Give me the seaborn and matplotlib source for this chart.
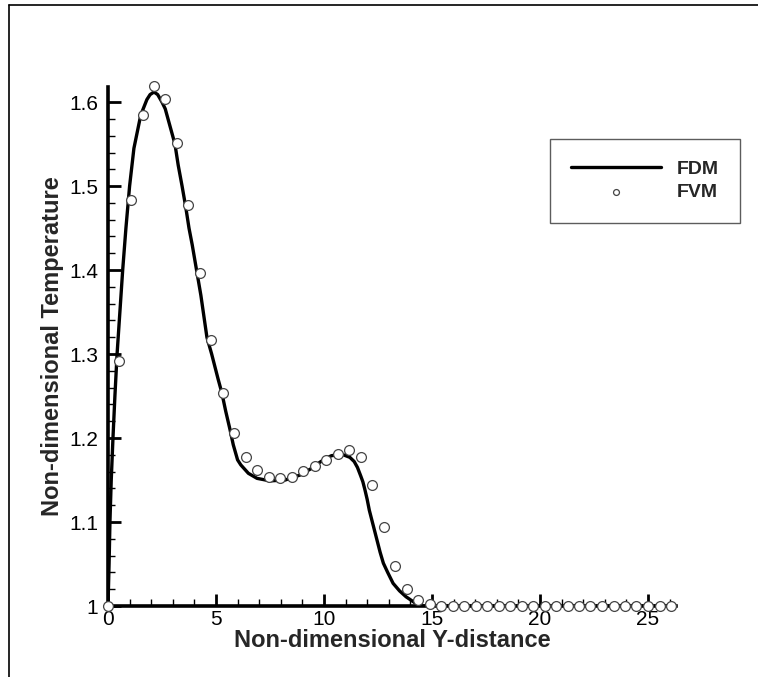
import numpy as np
import pandas as pd
import matplotlib
matplotlib.use("Agg")
import matplotlib.pyplot as plt
import seaborn as sns
from matplotlib.ticker import MultipleLocator, FuncFormatter
from matplotlib.lines import Line2D

# FDM solution (solid curve)
fdm_y_dist = [0.0, 0.05, 0.09, 0.15, 0.23, 0.32, 0.42, 0.55, 0.68, 0.83, 1.0, 1.2,
              1.48, 1.6, 1.8, 1.95, 2.13, 2.3, 2.5, 2.65, 2.8, 3.1, 3.25, 3.43, 3.6,
              3.75, 3.9, 4.1, 4.3, 4.58, 4.8, 5.0, 5.1, 5.27, 5.45, 5.65, 5.8, 6.0,
              6.15, 6.5, 6.9, 7.5, 8.2, 8.9, 9.5, 9.8, 10.1, 10.35, 10.65, 10.9, 11.0,
              11.2, 11.4, 11.55, 11.7, 11.8, 11.9, 12.0, 12.1, 12.25, 12.45, 12.6,
              12.75, 12.95, 13.2, 13.5, 13.8, 14.2, 14.6, 15.5, 26.07]
fdm_temp = [1.0, 1.05, 1.1, 1.15, 1.2, 1.25, 1.3, 1.35, 1.4, 1.45, 1.5, 1.545,
            1.58, 1.59, 1.603, 1.609, 1.612, 1.609, 1.6, 1.592, 1.578, 1.55, 1.525,
            1.5, 1.475, 1.45, 1.43, 1.4, 1.37, 1.32, 1.30, 1.28, 1.27, 1.254, 1.232,
            1.21, 1.192, 1.174, 1.168, 1.158, 1.152, 1.149, 1.15, 1.156, 1.165,
            1.171, 1.176, 1.179, 1.18, 1.18, 1.179, 1.177, 1.172, 1.165, 1.155,
            1.148, 1.138, 1.127, 1.114, 1.099, 1.079, 1.064, 1.051, 1.04, 1.027,
            1.018, 1.011, 1.004, 1.0, 1.0, 1.0]

# FVM solution (circles)
fvm_y_dist = [0.0, 0.53, 1.06, 1.6, 2.13, 2.66, 3.19, 3.72, 4.26, 4.79, 5.32, 5.85,
              6.38, 6.92, 7.45, 7.98, 8.51, 9.05, 9.58, 10.11, 10.64, 11.17, 11.7,
              12.24, 12.77, 13.3, 13.83, 14.36, 14.9, 15.43, 15.96, 16.49, 17.02,
              17.56, 18.09, 18.62, 19.15, 19.68, 20.22, 20.75, 21.28, 21.81, 22.34,
              22.88, 23.41, 23.94, 24.47, 25.0, 25.54, 26.07]
fvm_temp = [1.0, 1.292, 1.483, 1.585, 1.619, 1.604, 1.551, 1.477, 1.396, 1.317, 1.254,
            1.206, 1.177, 1.162, 1.154, 1.152, 1.154, 1.161, 1.167, 1.174, 1.181,
            1.186, 1.177, 1.144, 1.094, 1.048, 1.02, 1.007, 1.002, 1.0, 1.0, 1.0,
            1.0, 1.0, 1.0, 1.0, 1.0, 1.0, 1.0, 1.0, 1.0, 1.0, 1.0, 1.0, 1.0, 1.0,
            1.0, 1.0, 1.0, 1.0]

fdm = pd.DataFrame({"y": fdm_y_dist, "T": fdm_temp})
fvm = pd.DataFrame({"y": fvm_y_dist, "T": fvm_temp})

sns.set_style("ticks")
plt.rcParams["font.family"] = ["Liberation Sans", "DejaVu Sans"]

fig = plt.figure(figsize=(7.58, 6.77), dpi=100)
ax = fig.add_axes([108 / 758, 1 - 606 / 677, 568 / 758, 519 / 677])

sns.lineplot(data=fdm, x="y", y="T", color="black", linewidth=2.4,
             label="FDM", ax=ax)
sns.scatterplot(data=fvm, x="y", y="T", marker="o", s=50, facecolor="white",
                edgecolor="#444444", linewidth=0.9, label="FVM", ax=ax, zorder=3)

ax.set_xlim(0, 26.3)
ax.set_ylim(1.0, 1.618)

ax.xaxis.set_major_locator(MultipleLocator(5))
ax.xaxis.set_minor_locator(MultipleLocator(1))
ax.yaxis.set_major_locator(MultipleLocator(0.1))
ax.yaxis.set_minor_locator(MultipleLocator(0.02))
ax.yaxis.set_major_formatter(FuncFormatter(lambda v, p: f"{v:g}"))

ax.tick_params(which="major", direction="in", length=9, width=2, labelsize=15,
               color="black", labelcolor="black")
ax.tick_params(which="minor", direction="in", length=5, width=1, color="black")
ax.tick_params(axis="x", which="major", pad=3)
ax.tick_params(axis="y", which="major", pad=7)

for side in ["top", "right"]:
    ax.spines[side].set_visible(False)
for side in ["left", "bottom"]:
    ax.spines[side].set_linewidth(2.6)
    ax.spines[side].set_color("black")
for coll in ax.collections:
    coll.set_clip_on(False)

ax.set_xlabel("Non-dimensional Y-distance", fontsize=17, fontweight="bold", labelpad=0)
ax.set_ylabel("Non-dimensional Temperature", fontsize=17, fontweight="bold", labelpad=4)

leg = ax.legend(loc="upper left", bbox_to_anchor=(550 / 758, 1 - 139 / 677),
                bbox_transform=fig.transFigure, fontsize=14, frameon=True,
                fancybox=False, edgecolor="#333333", handlelength=4.6,
                handletextpad=0.8, borderpad=1.1, labelspacing=0.3,
                markerscale=0.6, borderaxespad=0)
leg.get_frame().set_linewidth(1.0)
for t in leg.get_texts():
    t.set_fontweight("bold")

# outer frame lines of the original figure
fig.add_artist(Line2D([9 / 758, 9 / 758], [0, 1 - 5 / 677], color="black", lw=1.2,
                      transform=fig.transFigure))
fig.add_artist(Line2D([9 / 758, 1], [1 - 5 / 677, 1 - 5 / 677], color="black", lw=1.2,
                      transform=fig.transFigure))

fig.savefig("out.png", dpi=100)
